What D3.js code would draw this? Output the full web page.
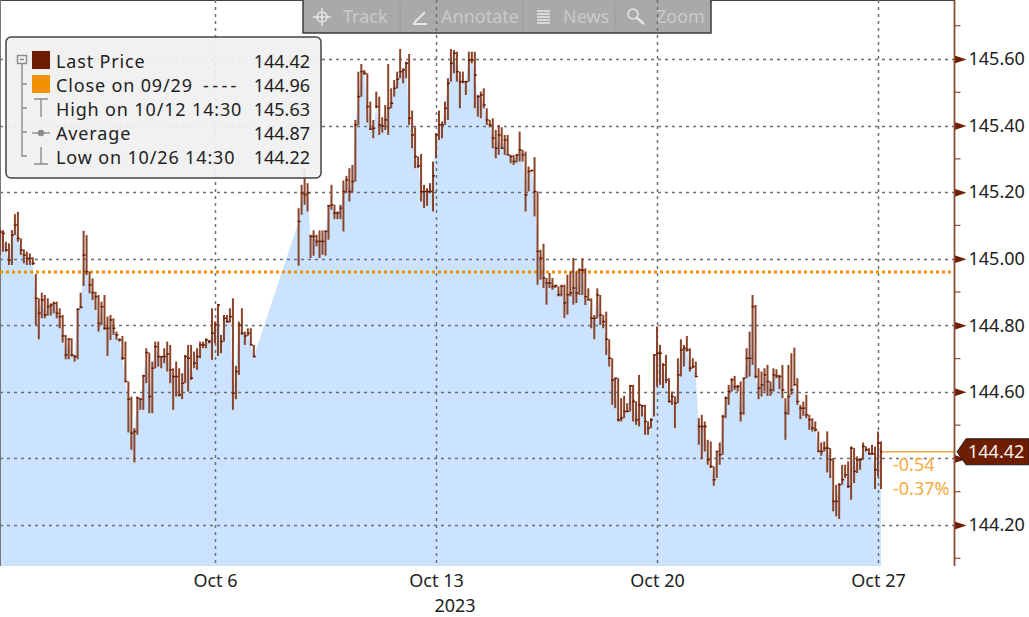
<!DOCTYPE html>
<html>
<head>
<meta charset="utf-8">
<script src="https://cdn.jsdelivr.net/npm/d3@7"></script>
<style>
body { margin: 0; background: #fff; }
svg { display: block; }
text { font-family: "Noto Sans", sans-serif; }
</style>
</head>
<body>
<script>
//bars, one per slot on the axis. null = no trading (weekend gap)
var high = [
145.091,145.086,145.051,145.046,145.086,145.134,145.141,145.061,145.028,145.021,
145.016,145.004,144.954,144.881,144.898,144.891,144.881,144.866,144.871,144.871,
144.851,144.831,144.771,144.761,144.761,144.711,144.851,144.898,145.084,145.071,
144.961,144.941,144.901,144.891,144.871,144.891,144.826,144.831,144.821,144.781,
144.761,144.768,144.751,144.631,144.586,144.491,144.586,144.581,144.651,144.731,
144.718,144.691,144.751,144.751,144.706,144.731,144.751,144.741,144.671,144.691,
144.671,144.656,144.711,144.741,144.741,144.721,144.731,144.751,144.751,144.761,
144.756,144.851,144.811,144.864,144.771,144.831,144.831,144.851,144.881,144.678,
144.811,144.851,144.781,144.791,144.791,144.741,null,null,null,null,
null,null,null,null,null,null,null,null,null,null,
145.152,145.222,145.272,145.227,145.072,145.085,145.072,145.085,145.085,145.085,
145.162,145.222,145.162,145.142,145.162,145.235,145.249,145.272,145.282,145.417,
145.562,145.585,145.567,145.557,145.472,145.417,145.502,145.487,145.425,145.462,
145.585,145.512,145.537,145.562,145.63,145.572,145.592,145.615,145.445,145.395,
145.307,145.315,145.222,145.212,145.227,145.292,145.377,145.445,145.412,145.472,
145.542,145.63,145.627,145.622,145.562,145.562,145.532,145.622,145.622,145.622,
145.492,145.502,145.512,145.452,145.417,145.422,145.387,145.402,145.395,145.372,
145.372,145.312,145.312,145.312,145.382,145.327,145.322,145.277,145.267,145.305,
145.202,145.027,145.045,144.942,144.957,144.942,144.922,144.917,144.922,144.922,
144.952,144.962,145.002,144.962,144.971,145.001,144.971,144.911,144.881,144.831,
144.911,144.891,144.831,144.841,144.758,144.701,144.641,144.641,144.581,144.588,
144.566,144.621,144.621,144.571,144.651,144.561,144.561,144.511,144.521,144.711,
144.796,144.741,144.686,144.711,144.641,144.601,144.586,144.701,144.758,144.741,
144.768,144.731,144.701,144.691,144.521,144.531,144.511,144.456,144.451,144.376,
144.421,144.448,144.531,144.586,144.621,144.641,144.648,144.621,144.631,144.641,
144.731,144.781,144.891,144.861,144.671,144.661,144.671,144.681,144.631,144.671,
144.668,144.651,144.681,144.581,144.681,144.716,144.733,144.641,144.561,144.571,
144.591,144.531,144.521,144.511,144.481,144.448,144.451,144.481,144.431,144.401,
144.321,144.326,144.381,144.381,144.391,144.436,144.431,144.406,144.401,144.448,
144.436,144.431,144.441,144.436,144.481,144.451
];
var low = [
145.011,145.021,145.021,144.981,144.981,145.071,145.051,145.011,144.986,144.981,
144.981,144.981,144.801,144.758,144.821,144.821,144.829,144.829,144.836,144.821,
144.791,144.748,144.698,144.698,144.706,144.691,144.698,144.851,144.918,144.951,
144.896,144.876,144.846,144.781,144.801,144.786,144.708,144.756,144.771,144.756,
144.751,144.696,144.631,144.478,144.426,144.388,144.471,144.546,144.546,144.626,
144.536,144.536,144.671,144.676,144.671,144.686,144.661,144.626,144.546,144.586,
144.586,144.578,144.626,144.601,144.636,144.671,144.666,144.701,144.731,144.731,
144.746,144.696,144.746,144.708,144.716,144.751,144.808,144.808,144.546,144.578,
144.651,144.771,144.741,144.768,144.741,144.704,null,null,null,null,
null,null,null,null,null,null,null,null,null,null,
144.979,145.132,145.162,145.142,145.002,145.009,145.037,145.002,145.012,145.009,
145.057,145.147,145.119,145.119,145.119,145.082,145.197,145.172,145.199,145.232,
145.402,145.487,145.552,145.409,145.387,145.362,145.452,145.372,145.379,145.387,
145.372,145.452,145.487,145.512,145.542,145.527,145.542,145.402,145.332,145.272,
145.272,145.172,145.152,145.159,145.197,145.142,145.302,145.357,145.362,145.402,
145.417,145.532,145.557,145.532,145.452,145.527,145.492,145.532,145.587,145.452,
145.427,145.422,145.452,145.402,145.395,145.332,145.302,145.312,145.332,145.312,
145.312,145.287,145.282,145.289,145.292,145.292,145.142,145.202,145.262,145.127,
144.922,144.937,144.912,144.862,144.912,144.907,144.912,144.887,144.887,144.822,
144.832,144.887,144.862,144.867,144.891,144.891,144.861,144.876,144.791,144.758,
144.821,144.801,144.791,144.711,144.676,144.561,144.551,144.511,144.511,144.521,
144.541,144.541,144.511,144.501,144.496,144.526,144.471,144.471,144.491,144.526,
144.616,144.621,144.611,144.626,144.568,144.561,144.491,144.566,144.646,144.676,
144.721,144.661,144.671,144.646,144.441,144.398,144.421,144.381,144.371,144.318,
144.341,144.381,144.411,144.521,144.561,144.601,144.606,144.601,144.511,144.531,
144.641,144.646,144.681,144.641,144.578,144.586,144.601,144.588,144.588,144.601,
144.641,144.608,144.581,144.456,144.531,144.591,144.621,144.561,144.518,144.528,
144.521,144.486,144.481,144.481,144.421,144.408,144.421,144.358,144.341,144.241,
144.226,144.218,144.321,144.341,144.311,144.276,144.326,144.356,144.366,144.396,
144.421,144.411,144.411,144.308,144.346,144.308
];
var close = [
145.08,145.076,145.026,144.996,145.071,145.101,145.061,145.026,145.011,145.001,
145.001,144.986,144.881,144.836,144.876,144.831,144.856,144.861,144.866,144.836,
144.826,144.768,144.711,144.758,144.711,144.706,144.848,144.854,145.011,144.961,
144.921,144.898,144.886,144.806,144.856,144.791,144.791,144.816,144.791,144.771,
144.756,144.701,144.631,144.578,144.476,144.481,144.581,144.578,144.648,144.718,
144.586,144.671,144.736,144.706,144.706,144.706,144.714,144.666,144.646,144.646,
144.591,144.626,144.706,144.701,144.641,144.686,144.706,144.741,144.741,144.756,
144.751,144.776,144.801,144.861,144.751,144.821,144.811,144.826,144.596,144.661,
144.801,144.776,144.768,144.776,144.741,144.706,null,null,null,null,
null,null,null,null,null,null,null,null,null,null,
145.112,145.197,145.192,145.197,145.067,145.067,145.052,145.052,145.052,145.082,
145.159,145.162,145.137,145.137,145.152,145.202,145.237,145.202,145.232,145.402,
145.487,145.562,145.557,145.457,145.389,145.392,145.457,145.402,145.399,145.417,
145.452,145.467,145.512,145.539,145.562,145.567,145.587,145.422,145.372,145.307,
145.279,145.202,145.202,145.202,145.202,145.249,145.372,145.402,145.402,145.452,
145.527,145.587,145.617,145.562,145.532,145.532,145.532,145.597,145.597,145.552,
145.487,145.492,145.462,145.417,145.402,145.362,145.332,145.372,145.332,145.357,
145.312,145.307,145.292,145.312,145.327,145.312,145.192,145.262,145.265,145.202,
145.022,145.002,144.942,144.927,144.927,144.917,144.919,144.892,144.917,144.867,
144.892,144.897,144.912,144.897,144.966,144.966,144.886,144.876,144.821,144.821,
144.891,144.831,144.811,144.758,144.701,144.636,144.641,144.516,144.521,144.541,
144.541,144.618,144.571,144.516,144.561,144.558,144.511,144.491,144.516,144.711,
144.716,144.716,144.681,144.636,144.571,144.586,144.566,144.651,144.726,144.731,
144.726,144.671,144.676,144.646,144.496,144.496,144.496,144.396,144.376,144.336,
144.421,144.411,144.526,144.581,144.601,144.636,144.616,144.616,144.536,144.641,
144.701,144.701,144.856,144.646,144.611,144.621,144.651,144.631,144.606,144.651,
144.648,144.646,144.606,144.536,144.586,144.606,144.621,144.571,144.551,144.551,
144.531,144.516,144.491,144.486,144.421,144.421,144.431,144.431,144.396,144.271,
144.271,144.321,144.336,144.351,144.316,144.431,144.361,144.396,144.396,144.436,
144.426,144.414,144.414,144.366,144.446,144.42
];

var priceTicks = [144.2, 144.4, 144.6, 144.8, 145.0, 145.2, 145.4, 145.6];
var minorTicks = [144.1, 144.3, 144.5, 144.7, 144.9, 145.1, 145.3, 145.5, 145.7, 145.9];
var dateSlots = [72, 146, 220, 294];
var dateLabels = ['Oct 6', 'Oct 13', 'Oct 20', 'Oct 27'];
var prevClose = 144.96;
var lastPrice = 144.42;
var changeLabels = ['-0.54', '-0.37%'];
var legendLabels = ['Last Price', 'Close on 09/29', 'High on 10/12 14:30', 'Average', 'Low on 10/26 14:30'];
var legendValues = ['144.42', '144.96', '145.63', '144.87', '144.22'];
var toolLabels = ['Track', 'Annotate', 'News', 'Zoom'];

var brown = '#6e1e00', axisBrown = '#8a4b38', orange = '#f29100', gridCol = '#6b7075';

var svg = d3.select('body').append('svg').attr('width', 1029).attr('height', 617);
var plotBottom = 566, axisX = 954.5;

var x = d3.scaleLinear().domain([72, 294]).range([215, 878]);
var y = d3.scaleLinear().domain([144.2, 145.6]).range([525, 59]);

var slots = d3.range(high.length).filter(function (i) { return high[i] !== null; });

//area through the closes, straight across the weekend
var area = d3.area()
    .x(function (i) { return x(i); })
    .y0(plotBottom)
    .y1(function (i) { return y(close[i]); });

svg.append('path').attr('d', area(slots)).attr('fill', '#cbe3ff');

//frame
svg.append('line').attr('x1', 0).attr('x2', axisX).attr('y1', 0.5).attr('y2', 0.5).attr('stroke', '#444');
svg.append('line').attr('x1', 0.5).attr('x2', 0.5).attr('y1', 0).attr('y2', plotBottom).attr('stroke', '#777');

//toolbar
var tb = svg.append('g');
tb.append('rect').attr('x', 303).attr('y', -2).attr('width', 408).attr('height', 35)
    .attr('fill', '#a9a9a9').attr('stroke', '#3d3d3d').attr('stroke-width', 1.5);
[400, 523, 615].forEach(function (sx) {
    tb.append('line').attr('x1', sx).attr('x2', sx).attr('y1', 1).attr('y2', 32).attr('stroke', '#9a9a9a');
});
tb.selectAll('text').data(toolLabels).enter().append('text')
    .attr('x', function (d, i) { return [343, 441, 563, 656][i]; })
    .attr('y', 23)
    .attr('fill', '#c9c9c9')
    .style('font-size', '18px')
    .text(function (d) { return d; });
//toolbar icons
var ic = tb.append('g').attr('fill', 'none').attr('stroke', '#e6e6e6').attr('stroke-width', 1.5);
ic.append('circle').attr('cx', 322).attr('cy', 17).attr('r', 5);
ic.append('path').attr('d', 'M322 8V26M313 17H331');
ic.append('path').attr('d', 'M414 23L425 12M413 24H427').attr('stroke-width', 2);
ic.append('path').attr('d', 'M537 11H550M537 14H550M537 17H550M537 20H550M537 23H550').attr('stroke-width', 1.6);
ic.append('circle').attr('cx', 633).attr('cy', 14).attr('r', 5);
ic.append('path').attr('d', 'M637 18L644 24').attr('stroke-width', 2.5);

//grid
svg.append('g').selectAll('line').data(priceTicks).enter().append('line')
    .attr('x1', 0).attr('x2', axisX)
    .attr('y1', function (d) { return Math.round(y(d)) + 0.5; })
    .attr('y2', function (d) { return Math.round(y(d)) + 0.5; })
    .attr('stroke', gridCol).attr('stroke-width', 1.5).attr('stroke-dasharray', '3,4');
svg.append('g').selectAll('line').data(dateSlots).enter().append('line')
    .attr('x1', function (d) { return Math.round(x(d)) + 0.5; })
    .attr('x2', function (d) { return Math.round(x(d)) + 0.5; })
    .attr('y1', 0).attr('y2', plotBottom)
    .attr('stroke', gridCol).attr('stroke-width', 1.5).attr('stroke-dasharray', '3,4');

//previous close
svg.append('line')
    .attr('x1', 0).attr('x2', axisX)
    .attr('y1', y(prevClose)).attr('y2', y(prevClose))
    .attr('stroke', orange).attr('stroke-width', 3).attr('stroke-dasharray', '3,3');

//bars
var bars = svg.append('g').attr('stroke', '#8a4429');
bars.selectAll('line.hl').data(slots).enter().append('line')
    .attr('class', 'hl')
    .attr('x1', function (i) { return x(i); })
    .attr('x2', function (i) { return x(i); })
    .attr('y1', function (i) { return y(high[i]); })
    .attr('y2', function (i) { return y(low[i]); })
    .attr('stroke-width', 2);
bars.selectAll('line.cl').data(slots).enter().append('line')
    .attr('class', 'cl')
    .attr('x1', function (i) { return x(i) - 1; })
    .attr('x2', function (i) { return x(i) + 2; })
    .attr('y1', function (i) { return y(close[i]); })
    .attr('y2', function (i) { return y(close[i]); })
    .attr('stroke', brown)
    .attr('stroke-width', 1.5);

//last price line and change
svg.append('line')
    .attr('x1', x(high.length - 1) + 1).attr('x2', axisX)
    .attr('y1', y(lastPrice)).attr('y2', y(lastPrice))
    .attr('stroke', '#f5a93f').attr('stroke-width', 1.5);
svg.selectAll('text.chg').data(changeLabels).enter().append('text')
    .attr('class', 'chg')
    .attr('x', 893)
    .attr('y', function (d, i) { return 471 + i * 24; })
    .attr('fill', '#f7ab45')
    .style('font-size', '18px')
    .text(function (d) { return d; });

//price axis
var yAxis = d3.axisRight(y).tickValues(priceTicks).tickSize(0).tickPadding(14)
    .tickFormat(function (d) { return d.toFixed(2); });
var yg = svg.append('g').attr('transform', 'translate(' + axisX + ',0)').call(yAxis);
yg.select('.domain').remove();
yg.selectAll('text').style('font-size', '18px').attr('fill', '#222');
yg.selectAll('.tick').append('path').attr('d', 'M0 -4L12 0L0 4Z').attr('fill', brown);
svg.append('line').attr('x1', axisX).attr('x2', axisX).attr('y1', 0).attr('y2', plotBottom)
    .attr('stroke', axisBrown).attr('stroke-width', 1.8);
svg.append('g').selectAll('line').data(minorTicks).enter().append('line')
    .attr('x1', axisX).attr('x2', axisX + 6)
    .attr('y1', function (d) { return y(d); })
    .attr('y2', function (d) { return y(d); })
    .attr('stroke', axisBrown).attr('stroke-width', 1.2);

//last price tag
var tagY = y(lastPrice);
svg.append('path')
    .attr('d', 'M957 ' + tagY + 'L966 ' + (tagY - 13) + 'H1029V' + (tagY + 13) + 'H966Z')
    .attr('fill', brown).attr('stroke', '#222').attr('stroke-width', 1);
svg.append('text').attr('x', 968).attr('y', tagY + 6.5).attr('fill', '#f4eeea')
    .style('font-size', '18px').text(lastPrice.toFixed(2));

//date axis
var xAxis = d3.axisBottom(x).tickValues(dateSlots).tickSize(0).tickPadding(8)
    .tickFormat(function (d, i) { return dateLabels[i]; });
var xg = svg.append('g').attr('transform', 'translate(0,' + plotBottom + ')').call(xAxis);
xg.select('.domain').remove();
xg.selectAll('text').style('font-size', '18px').attr('fill', '#222');
svg.append('text').attr('x', 455).attr('y', 612).attr('text-anchor', 'middle')
    .attr('fill', '#222').style('font-size', '18px').text('2023');

//legend
var lg = svg.append('g');
lg.append('rect').attr('x', 6).attr('y', 37).attr('width', 315).attr('height', 141).attr('rx', 5)
    .attr('fill', '#f0f0f0').attr('fill-opacity', 0.93).attr('stroke', '#444').attr('stroke-width', 1.5);
lg.selectAll('text.lab').data(legendLabels).enter().append('text')
    .attr('class', 'lab')
    .attr('x', 56)
    .attr('y', function (d, i) { return 68 + i * 24; })
    .attr('fill', '#222').style('font-size', '18px').style('letter-spacing', '0.85px')
    .text(function (d) { return d; });
//dashed sample after the close label
lg.append('text').attr('x', 203).attr('y', 92).attr('fill', '#222')
    .style('font-size', '18px').style('letter-spacing', '3.4px').text('----');
lg.selectAll('text.val').data(legendValues).enter().append('text')
    .attr('class', 'val')
    .attr('x', 310).attr('text-anchor', 'end')
    .attr('y', function (d, i) { return 68 + i * 24; })
    .attr('fill', '#222').style('font-size', '18px')
    .text(function (d) { return d; });
lg.append('rect').attr('x', 32).attr('y', 51).attr('width', 18).attr('height', 18).attr('fill', brown);
lg.append('rect').attr('x', 32).attr('y', 75).attr('width', 18).attr('height', 18).attr('fill', orange);
//tree and symbols
var tr = lg.append('g').attr('fill', 'none').attr('stroke', '#8c8c8c').attr('stroke-width', 1.4);
tr.append('rect').attr('x', 17.5).attr('y', 55.5).attr('width', 9).attr('height', 8).attr('fill', '#f0f0f0');
tr.append('path').attr('d', 'M20 59.5H24M22 64V156H27M22 84H27M22 108H27M22 132H27');
tr.append('path').attr('d', 'M34 99H48M41 99V117');
tr.append('path').attr('d', 'M32 133H50');
tr.append('circle').attr('cx', 41).attr('cy', 133).attr('r', 2.5).attr('fill', '#8c8c8c');
tr.append('path').attr('d', 'M41 147V164M37 164H45M34 164H48');
</script>
</body>
</html>
